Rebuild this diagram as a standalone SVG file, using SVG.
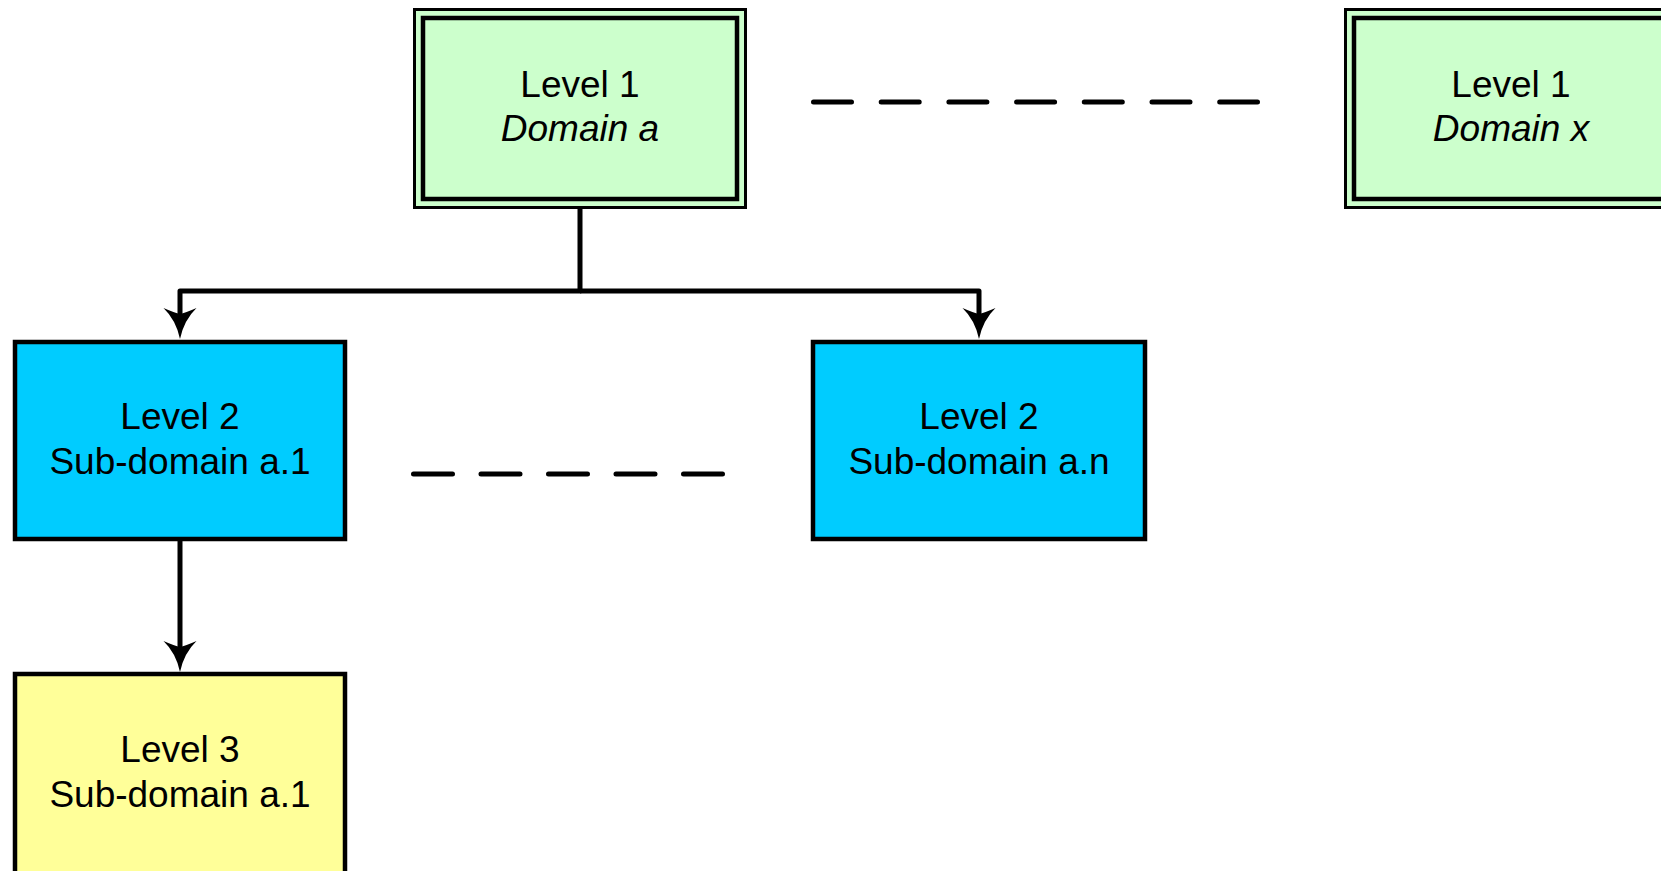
<svg xmlns="http://www.w3.org/2000/svg" width="1661" height="871" viewBox="0 0 1661 871">
<style>
  text { font-family: "Liberation Sans", Arial, sans-serif; font-size: 37px; fill: #000; text-anchor: middle; }
  .it { font-style: italic; }
  .l1 { fill: #CCFFCC; stroke: #000; }
  .outer { stroke-width: 3; }
  .inner { stroke-width: 4.5; }
  .l2 { fill: #00CCFF; stroke: #000; stroke-width: 4.5; }
  .l3 { fill: #FFFF99; stroke: #000; stroke-width: 4.5; }
  .conn { fill: none; stroke: #000; stroke-width: 5; stroke-linejoin: round; }
  .dash { fill: none; stroke: #000; stroke-width: 5; stroke-linecap: round; }
</style>
<defs>
  <marker id="arrow" markerUnits="userSpaceOnUse" markerWidth="60" markerHeight="60" refX="0" refY="0" orient="auto" overflow="visible" viewBox="-30 -30 60 60">
    <path d="M25,0 Q6,-4 -6,-16.5 Q-1,-5 0,0 Q-1,5 -6,16.5 Q6,4 25,0 Z" fill="#000"/>
  </marker>
</defs>
<rect width="1661" height="871" fill="#fff"/>

<g id="connectors">
  <path class="conn" d="M580,209 V291 H180 V314" marker-end="url(#arrow)"/>
  <path class="conn" d="M580,291 H979 V314" marker-end="url(#arrow)"/>
  <path class="conn" d="M180,541 V647" marker-end="url(#arrow)"/>
  <path class="dash" d="M813.5,102 H1257.5" stroke-dasharray="38 29.7"/>
  <path class="dash" d="M413.5,474 H722.5" stroke-dasharray="39 28.5"/>
</g>

<g id="domain-a">
  <rect class="l1 outer" x="414.5" y="9.5" width="331" height="198"/>
  <rect class="l1 inner" x="423" y="18" width="314" height="181"/>
  <text x="580" y="97">Level 1</text>
  <text class="it" x="580" y="141">Domain a</text>
</g>

<g id="domain-x">
  <rect class="l1 outer" x="1345.5" y="9.5" width="331" height="198"/>
  <rect class="l1 inner" x="1354" y="18" width="314" height="181"/>
  <text x="1511" y="97">Level 1</text>
  <text class="it" x="1511" y="141">Domain x</text>
</g>

<g id="subdomain-a1">
  <rect class="l2" x="15" y="342" width="330" height="197"/>
  <text x="180" y="429">Level 2</text>
  <text x="180" y="474">Sub-domain a.1</text>
</g>

<g id="subdomain-an">
  <rect class="l2" x="813" y="342" width="332" height="197"/>
  <text x="979" y="429">Level 2</text>
  <text x="979" y="474">Sub-domain a.n</text>
</g>

<g id="level3-a1">
  <rect class="l3" x="15" y="674" width="330" height="220"/>
  <text x="180" y="762">Level 3</text>
  <text x="180" y="807">Sub-domain a.1</text>
</g>
</svg>
